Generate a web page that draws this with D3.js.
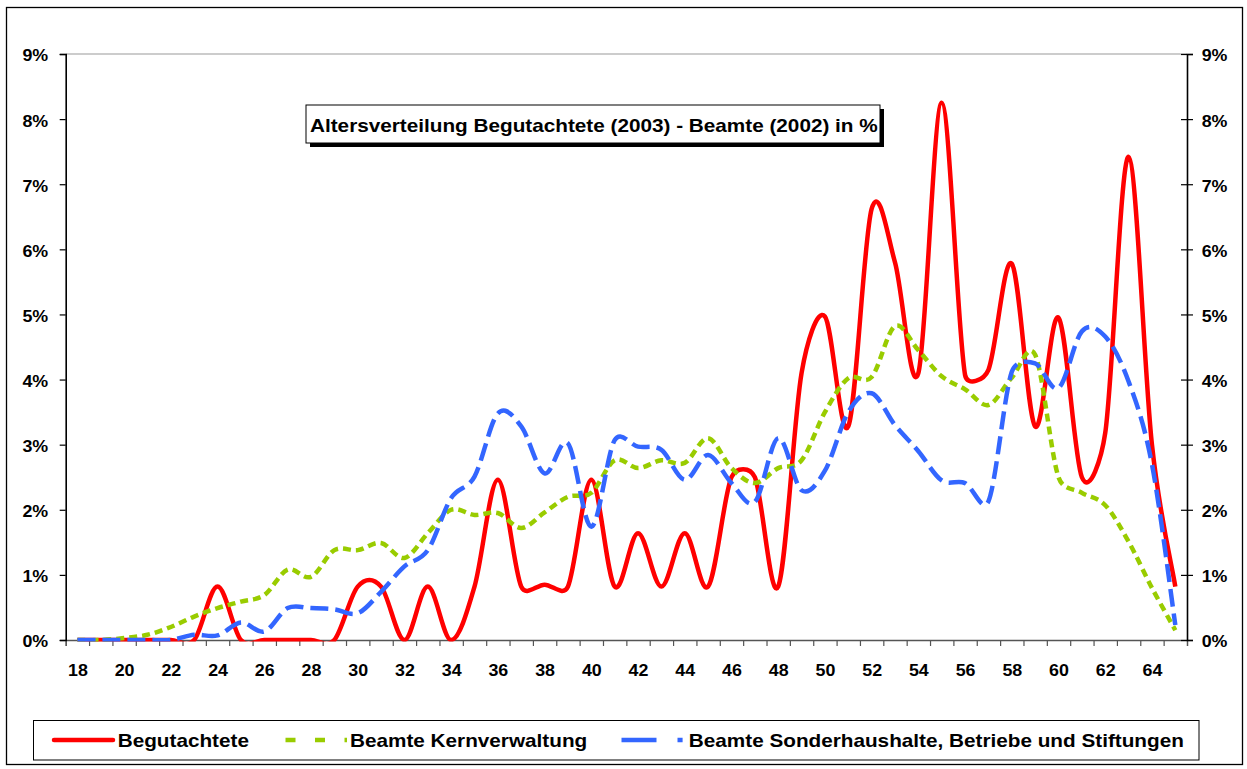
<!DOCTYPE html>
<html><head><meta charset="utf-8">
<script src="https://cdn.jsdelivr.net/npm/d3@7"></script>
<style>
body{margin:0;background:#fff}
svg{display:block}
text{font-family:"Liberation Sans",Arial,sans-serif;font-weight:bold;fill:#000}
</style>
</head><body>
<svg id="chart" width="1247" height="769"></svg>
<script>
// ---------- data ----------
const ages = [18,19,20,21,22,23,24,25,26,27,28,29,30,31,32,33,34,35,36,37,38,39,40,41,
              42,43,44,45,46,47,48,49,50,51,52,53,54,55,56,57,58,59,60,61,62,63,64,65];
const begutachtete = [0,0,0,0,0,0,0.82,0,0,0,0,0,0.82,0.82,0,0.82,0,0.82,2.46,0.82,0.85,0.82,2.46,0.82,
                      1.64,0.82,1.64,0.82,2.5,2.5,0.82,4.1,4.97,3.28,6.62,5.8,4.1,8.25,4.07,4.15,5.78,3.28,4.95,2.5,3.18,7.42,3.0,0.82];
const kernverwaltung = [0,0,0.03,0.08,0.2,0.36,0.49,0.59,0.69,1.08,0.97,1.38,1.38,1.49,1.26,1.64,2.0,1.92,1.95,1.72,1.96,2.2,2.26,2.76,
                        2.64,2.76,2.72,3.1,2.64,2.41,2.64,2.76,3.5,4.02,4.04,4.82,4.45,4.05,3.85,3.61,4.03,4.38,2.5,2.26,2.07,1.51,0.8,0.15];
const sonderhaushalte = [0,0,0,0,0,0.08,0.07,0.27,0.13,0.49,0.49,0.47,0.41,0.74,1.13,1.38,2.18,2.51,3.48,3.28,2.56,3.02,1.74,3.07,
                         2.97,2.92,2.46,2.84,2.41,2.12,3.1,2.3,2.6,3.5,3.79,3.3,2.9,2.45,2.41,2.13,4.12,4.25,3.87,4.74,4.66,3.97,2.7,0.23];
const xTickLabels = [18,20,22,24,26,28,30,32,34,36,38,40,42,44,46,48,50,52,54,56,58,60,62,64];
const yTicks = [0,1,2,3,4,5,6,7,8,9];
const seriesNames = ["Begutachtete","Beamte Kernverwaltung","Beamte Sonderhaushalte, Betriebe und Stiftungen"];
const titleText = "Altersverteilung Begutachtete (2003) - Beamte (2002) in %";

// ---------- layout ----------
const L = 65.7, R = 1187, T = 54, B = 640;
const colors = ["#ff0000","#99cc00","#3366ff"];
const dashes = [null,"8,5","18,7"];

const svg = d3.select("#chart");
function widen(k){
  return sel => sel.each(function(){
    const n = this.getComputedTextLength();
    this.setAttribute("textLength", n*k);
    this.setAttribute("lengthAdjust","spacingAndGlyphs");
  });
}

// Excel-like smoothing curve (Bezier, control arms capped at half the segment length)
function ExcelSmooth(context){ this._context = context; }
ExcelSmooth.prototype = {
  areaStart(){}, areaEnd(){},
  lineStart(){ this._pts = []; },
  point(px,py){ this._pts.push([+px,+py]); },
  lineEnd(){
    const p = this._pts, n = p.length, c = this._context;
    if(!n) return;
    c.moveTo(p[0][0],p[0][1]);
    const dist=(a,b)=>Math.hypot(a[0]-b[0],a[1]-b[1]);
    for(let i=0;i<n-1;i++){
      const p0=p[Math.max(i-1,0)], p1=p[i], p2=p[i+1], p3=p[Math.min(i+2,n-1)];
      const d12=dist(p1,p2), d02=dist(p0,p2), d13=dist(p1,p3);
      const f1=(d02/6 < d12/2) ? 1/6 : d12/(2*d02);
      const f2=(d13/6 < d12/2) ? 1/6 : d12/(2*d13);
      c.bezierCurveTo(p1[0]+f1*(p2[0]-p0[0]), p1[1]+f1*(p2[1]-p0[1]),
                      p2[0]-f2*(p3[0]-p1[0]), p2[1]-f2*(p3[1]-p1[1]), p2[0], p2[1]);
    }
  }
};
const curveExcel = ctx => new ExcelSmooth(ctx);

// outer frame
svg.append("rect").attr("x",6.5).attr("y",7.5).attr("width",1236).attr("height",757)
  .attr("fill","#fff").attr("stroke","#000").attr("stroke-width",1.3);

const x = d3.scaleLinear().domain([17.5,65.5]).range([L,R]);
const y = d3.scaleLinear().domain([0,9]).range([B,T]);

// top border line of plot
svg.append("line").attr("x1",L).attr("x2",R).attr("y1",T).attr("y2",T)
  .attr("stroke","#999").attr("stroke-width",1.2);

// x axis: ticks at category boundaries
const xAxisTicks = svg.append("g").attr("transform",`translate(0,${B})`)
  .call(d3.axisBottom(x).tickValues(d3.range(17.5,66,1)).tickSize(6).tickFormat(""));
xAxisTicks.select(".domain").attr("stroke","#555").attr("stroke-width",1.3);
xAxisTicks.selectAll(".tick line").attr("stroke","#555").attr("stroke-width",1.2);

const xAxisLabels = svg.append("g").attr("transform",`translate(0,${B})`)
  .call(d3.axisBottom(x).tickValues(xTickLabels).tickSize(0).tickPadding(24.5).tickFormat(d3.format("d")));
xAxisLabels.select(".domain").remove();
xAxisLabels.selectAll("text").attr("font-size","16.5px").attr("font-family",null).call(widen(1.08));

// left y axis
const yl = svg.append("g").attr("transform",`translate(${L},0)`)
  .call(d3.axisLeft(y).tickValues(yTicks).tickSize(6).tickPadding(11.5).tickFormat(d=>d+"%"));
yl.select(".domain").attr("stroke","#000").attr("stroke-width",1.6);
yl.selectAll(".tick line").attr("stroke","#000").attr("stroke-width",1.2);
yl.selectAll("text").attr("font-size","16.5px").attr("font-family",null).attr("dy","0.42em").call(widen(1.08));

// right y axis
const yr = svg.append("g").attr("transform",`translate(${R},0)`)
  .call(d3.axisRight(y).tickValues(yTicks).tickSize(6).tickPadding(8.7).tickFormat(d=>d+"%"));
yr.select(".domain").attr("stroke","#000").attr("stroke-width",1.6);
yr.selectAll(".tick line").attr("x1",-6).attr("stroke","#000").attr("stroke-width",1.2);
yr.selectAll("text").attr("font-size","16.5px").attr("font-family",null).attr("dy","0.42em").call(widen(1.08));

// clip
svg.append("clipPath").attr("id","plotclip").append("rect")
  .attr("x",L).attr("y",T).attr("width",R-L).attr("height",B-T+1.5);

const line = d3.line().x(d=>x(d[0])).y(d=>y(d[1])).curve(curveExcel);
const series = [begutachtete,kernverwaltung,sonderhaushalte];
const g = svg.append("g").attr("clip-path","url(#plotclip)");
[0,1,2].forEach(i=>{
  g.append("path").datum(ages.map((a,j)=>[a,series[i][j]]))
    .attr("d",line).attr("fill","none").attr("stroke",colors[i])
    .attr("stroke-width",4.5)
    .attr("stroke-dasharray",dashes[i])
    .attr("stroke-linejoin","round");
});

// title box
svg.append("rect").attr("x",310).attr("y",109).attr("width",574).attr("height",38).attr("fill","#000");
svg.append("rect").attr("x",306).attr("y",105).attr("width",574).attr("height",38)
  .attr("fill","#fff").attr("stroke","#000").attr("stroke-width",1);
svg.append("text").attr("x",310).attr("y",131.5).attr("font-size","18.5px").text(titleText).call(widen(1.12));

// legend
svg.append("rect").attr("x",33.5).attr("y",720.5).attr("width",1165.5).attr("height",39.5)
  .attr("fill","#fff").attr("stroke","#000").attr("stroke-width",1);
const legX = [[54,113,117.7],[285.5,347,350],[621.5,682.6,688.8]];
legX.forEach((p,i)=>{
  svg.append("line").attr("x1",p[0]).attr("x2",p[1]).attr("y1",740).attr("y2",740)
    .attr("stroke",colors[i]).attr("stroke-width",4.5)
    .attr("stroke-dasharray",i===0?null:(i===1?"10,19.5":"35,21"))
    .attr("stroke-linecap",i===0?"round":"butt");
  svg.append("text").attr("x",p[2]).attr("y",747).attr("font-size","18.5px").text(seriesNames[i]).call(widen(1.12));
});
</script>
</body></html>
